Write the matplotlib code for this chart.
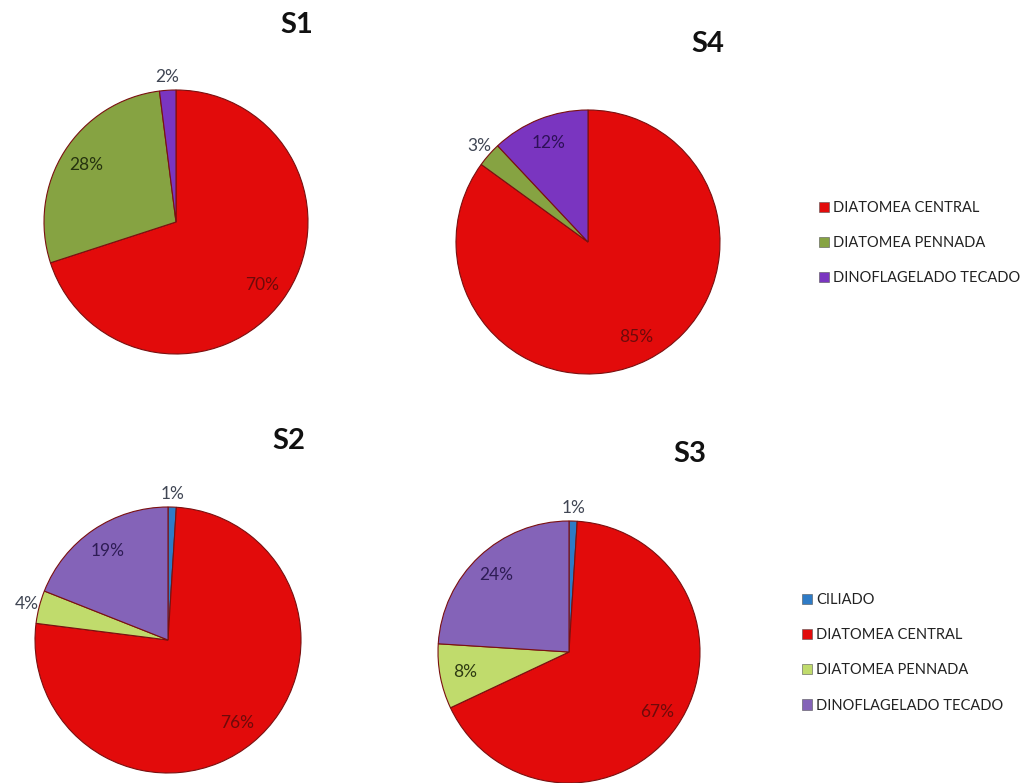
import numpy as np
import matplotlib
matplotlib.use("Agg")
from matplotlib import pyplot as plt
from matplotlib.patches import Patch

plt.rcParams['font.family'] = ['Lato', 'DejaVu Sans']

W, H = 1035, 783

# datos por estacion (orden de las porciones, en sentido horario desde arriba)
s1_labels = ['DIATOMEA CENTRAL', 'DIATOMEA PENNADA', 'DINOFLAGELADO TECADO']
s1_vals = [70, 28, 2]
s4_labels = ['DIATOMEA CENTRAL', 'DIATOMEA PENNADA', 'DINOFLAGELADO TECADO']
s4_vals = [85, 3, 12]
s2_labels = ['CILIADO', 'DIATOMEA CENTRAL', 'DIATOMEA PENNADA', 'DINOFLAGELADO TECADO']
s2_vals = [1, 76, 4, 19]
s3_labels = ['CILIADO', 'DIATOMEA CENTRAL', 'DIATOMEA PENNADA', 'DINOFLAGELADO TECADO']
s3_vals = [1, 67, 8, 24]

col_top = {'DIATOMEA CENTRAL': '#E20B0B', 'DIATOMEA PENNADA': '#86A342',
           'DINOFLAGELADO TECADO': '#7A35C0'}
col_bot = {'CILIADO': '#2E7BC6', 'DIATOMEA CENTRAL': '#E20B0B',
           'DIATOMEA PENNADA': '#C0DB6C', 'DINOFLAGELADO TECADO': '#8463B8'}
txt_top = {'DIATOMEA CENTRAL': '#6E0A0A', 'DIATOMEA PENNADA': '#26330F',
           'DINOFLAGELADO TECADO': '#2E1058'}
txt_bot = {'CILIADO': '#3A3F4A', 'DIATOMEA CENTRAL': '#6E0A0A',
           'DIATOMEA PENNADA': '#2E3A12', 'DINOFLAGELADO TECADO': '#2E1C55'}

fig = plt.figure(figsize=(W / 100, H / 100), dpi=100)
fig.patch.set_facecolor('white')


def tarta(cx, cy, r, vals, labels, cols, tcols, title, tx, ty):
    ax = fig.add_axes([(cx - r) / W, 1 - (cy + r) / H, 2 * r / W, 2 * r / H])
    wedges, _ = ax.pie(vals, colors=[cols[l] for l in labels], startangle=90,
                       counterclock=False, radius=1,
                       wedgeprops=dict(edgecolor='#7A1010', linewidth=0.8))
    for w, v, l in zip(wedges, vals, labels):
        ang = np.deg2rad((w.theta1 + w.theta2) / 2)
        if v < 5:
            d, c = 1.1, '#404654'
        else:
            d, c = 0.81, tcols[l]
        ax.text(d * np.cos(ang), d * np.sin(ang), f'{v}%', ha='center',
                va='center', fontsize=12.5, color=c)
    ax.set_xlim(-1, 1)
    ax.set_ylim(-1, 1)
    ax.set_aspect('equal')
    ax.axis('off')
    fig.text(tx / W, 1 - ty / H, title, fontsize=21, fontweight='bold',
             ha='center', va='center', color='#111111')


tarta(176, 222, 132, s1_vals, s1_labels, col_top, txt_top, 'S1', 297, 25)
tarta(588, 242, 132, s4_vals, s4_labels, col_top, txt_top, 'S4', 708, 44)
tarta(168, 640, 133, s2_vals, s2_labels, col_bot, txt_bot, 'S2', 289, 441)
tarta(569, 652, 131, s3_vals, s3_labels, col_bot, txt_bot, 'S3', 690, 454)

h_top = [Patch(facecolor=col_top[l], edgecolor='#555555', linewidth=0.4) for l in s1_labels]
fig.legend(h_top, s1_labels, loc='upper left', bbox_to_anchor=(806 / W, 1 - 188 / H),
           frameon=False, fontsize=10.5, handlelength=0.7, handleheight=0.7,
           handletextpad=0.25, labelspacing=1.45, labelcolor='#222222')

h_bot = [Patch(facecolor=col_bot[l], edgecolor='#555555', linewidth=0.4) for l in s2_labels]
fig.legend(h_bot, s2_labels, loc='upper left', bbox_to_anchor=(789 / W, 1 - 580 / H),
           frameon=False, fontsize=10.5, handlelength=0.7, handleheight=0.7,
           handletextpad=0.25, labelspacing=1.45, labelcolor='#222222')

fig.savefig('out.png', dpi=100)
